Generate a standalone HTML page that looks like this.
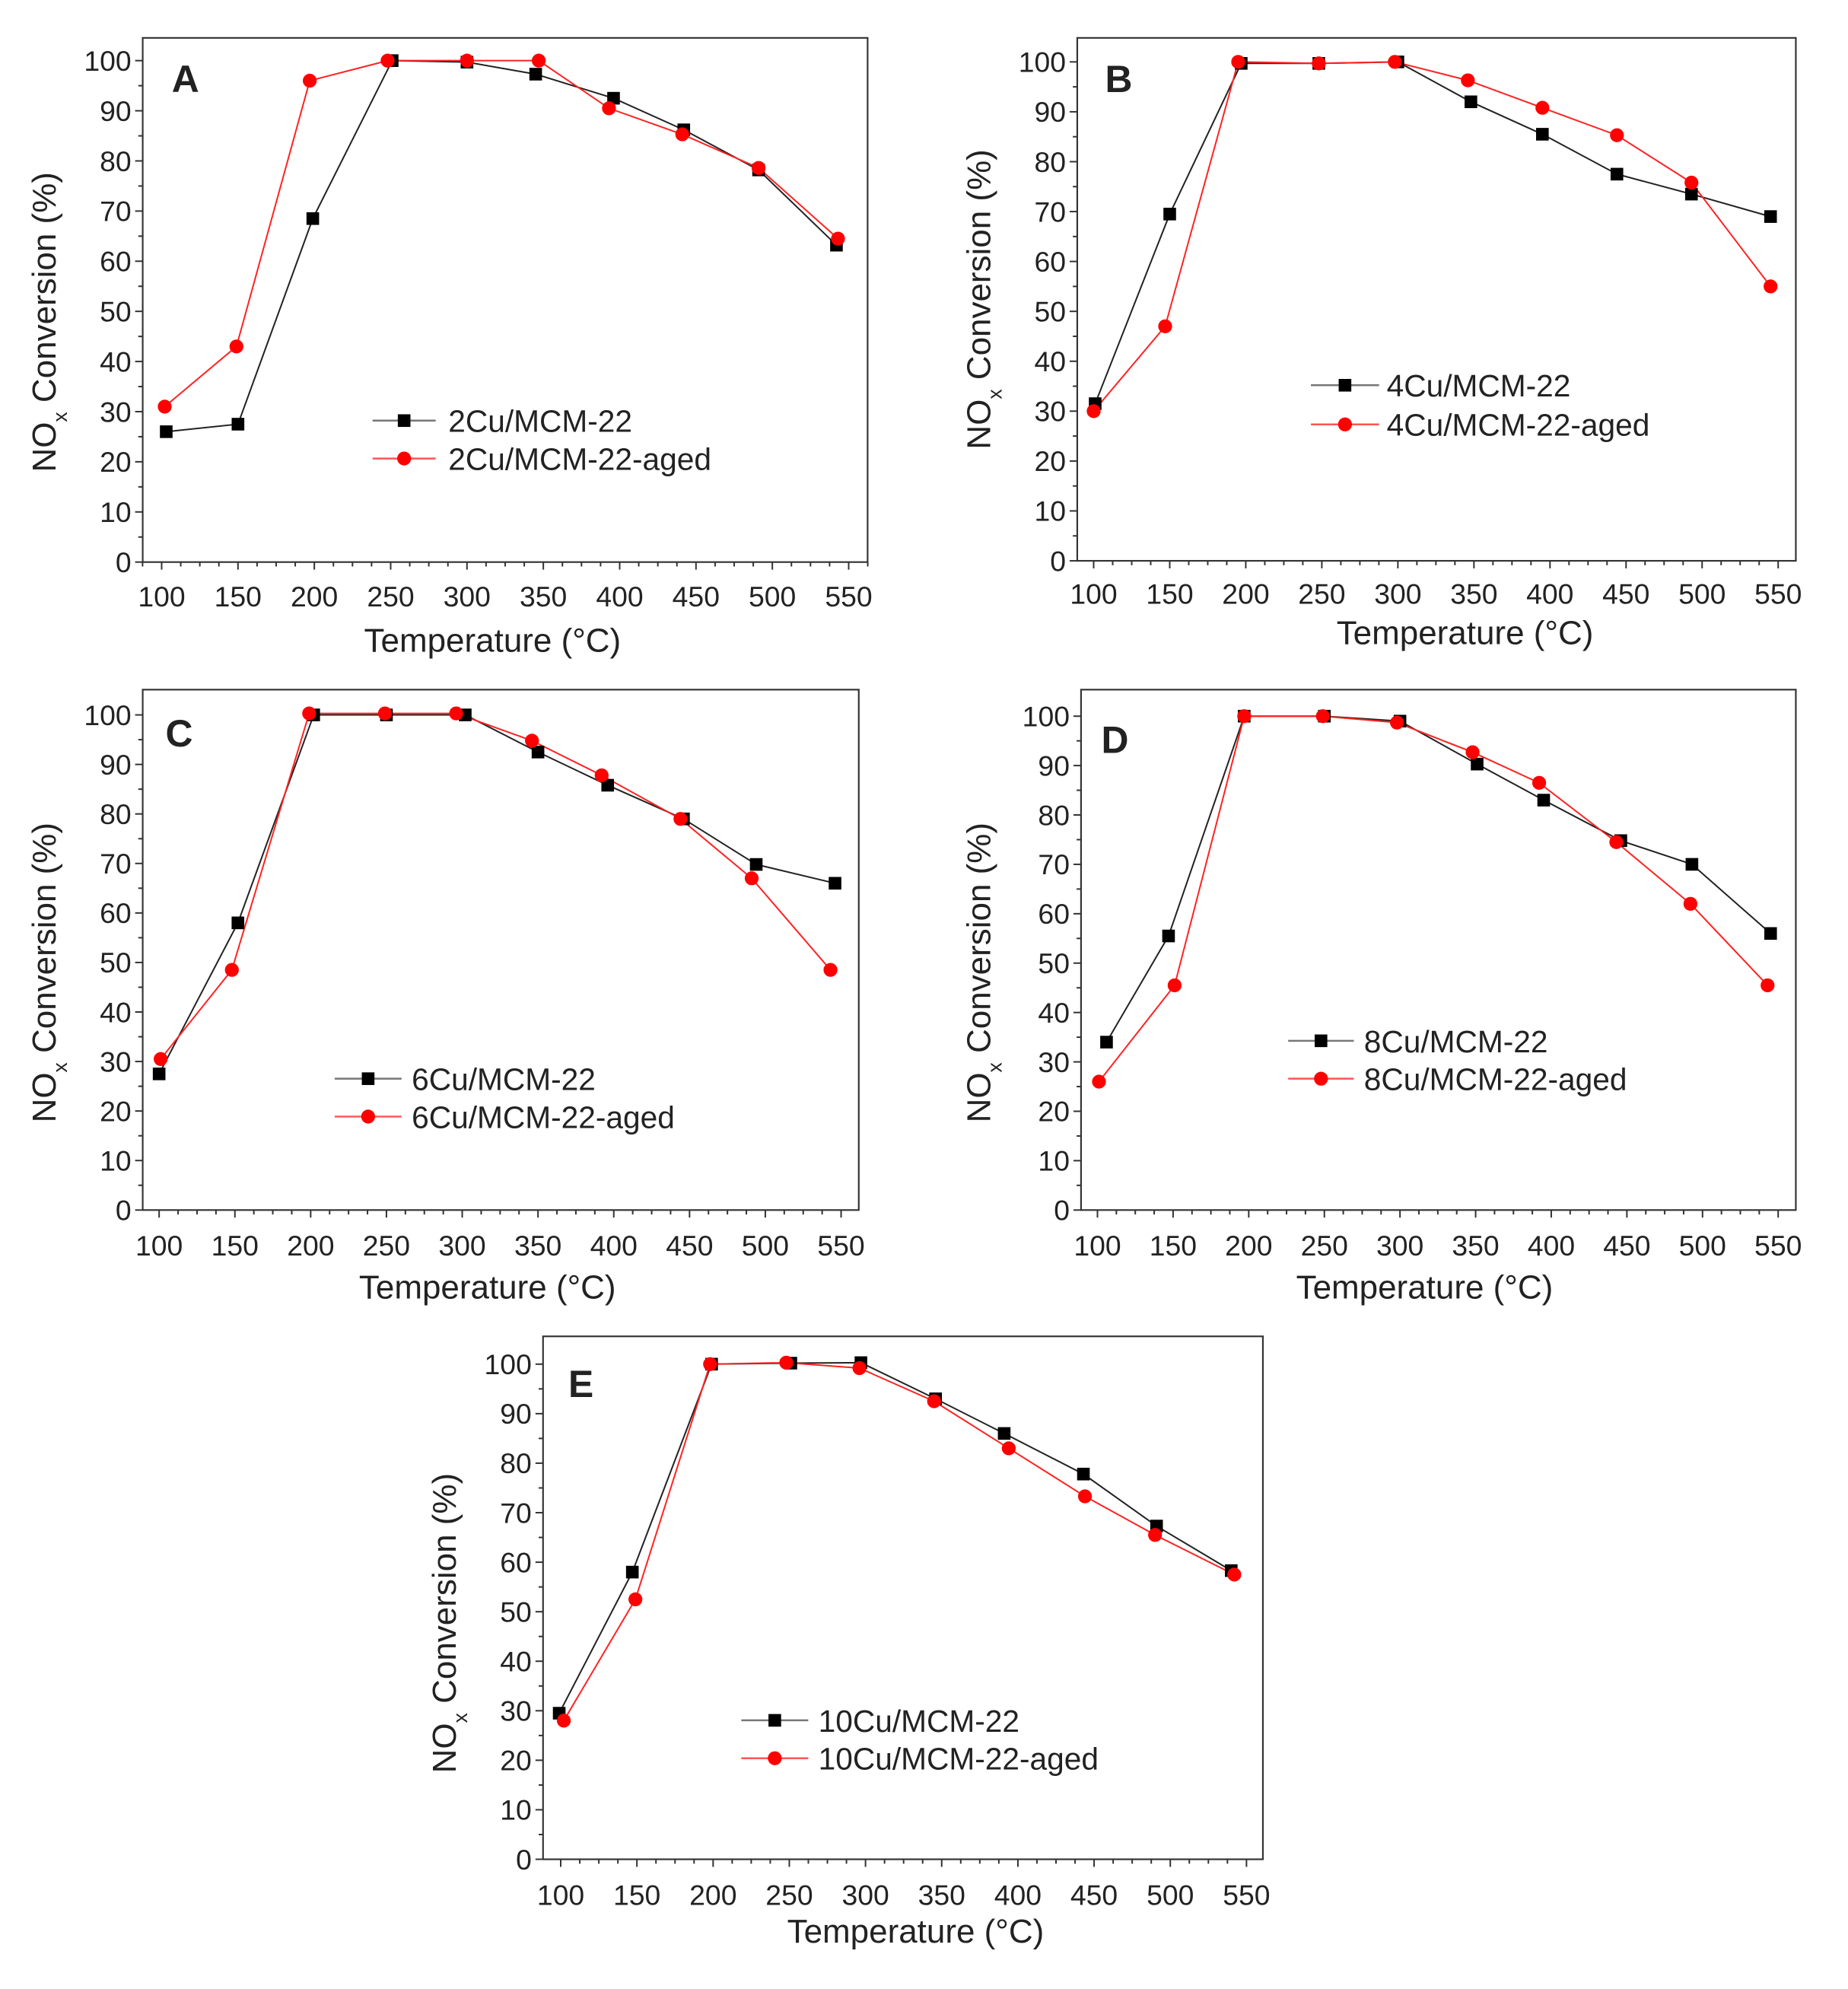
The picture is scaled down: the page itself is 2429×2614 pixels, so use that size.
<!DOCTYPE html>
<html><head><meta charset="utf-8"><style>
html,body{margin:0;padding:0;background:#fff}
svg{display:block}
text{font-family:"Liberation Sans",Arial,sans-serif;fill:#222}
</style></head><body>
<svg id="s" width="2429" height="2614" viewBox="0 0 1463.3 1574.7" preserveAspectRatio="none" xmlns="http://www.w3.org/2000/svg"></svg>
<script>
const S=document.getElementById('s');let h='';
const YL=["0","10","20","30","40","50","60","70","80","90","100"];
const XL=["100","150","200","250","300","350","400","450","500","550"];
const P=[
{L:'A',f:[113,30,687,445],x1:128,x2:672,y100:48,y0:445,let:[136,73],leg:[295,345,333,363,355],
 n:['2Cu/MCM-22','2Cu/MCM-22-aged'],yt:[35,255],xt:[390,516],tl:472,
 b:[[103,26],[150,27.5],[199,68.5],[251,100],[300,99.7],[345,97.3],[396,92.5],[442,86.2],[491,78.2],[542,63.2]],
 r:[[102,31],[149,43],[197,96],[248,100],[300,100],[347,100],[393,90.5],[441,85.3],[491,78.6],[543,64.5]]},
{L:'B',f:[853,30,1422,444],x1:866,x2:1408,y100:49,y0:444,let:[875,73],leg:[1038,1092,305,336,1098],
 n:['4Cu/MCM-22','4Cu/MCM-22-aged'],yt:[775,237],xt:[1160,510],tl:470,
 b:[[101,31.5],[150,69.5],[197,99.7],[248,99.7],[300,100],[348,92],[395,85.5],[444,77.5],[493,73.5],[545,69]],
 r:[[100,30],[147,47],[195,100],[248,99.7],[298,100],[346,96.3],[395,90.8],[444,85.3],[493,75.8],[545,55]]},
{L:'C',f:[113,546,680,958],x1:126,x2:666,y100:566,y0:958,let:[131,591],leg:[265,318,854,884,326],
 n:['6Cu/MCM-22','6Cu/MCM-22-aged'],yt:[35,770],xt:[386,1028],tl:986,
 b:[[100,27.5],[152,58],[202,100],[250,100],[302,100],[350,92.5],[396,85.8],[446,79],[494,69.8],[546,66]],
 r:[[101,30.5],[148,48.5],[199,100.3],[249,100.3],[296,100.3],[346,94.8],[392,87.8],[444,79],[491,67],[543,48.5]]},
{L:'D',f:[856,546,1422,958],x1:869,x2:1408,y100:567,y0:958,let:[872,596],leg:[1020,1072,824,854,1080],
 n:['8Cu/MCM-22','8Cu/MCM-22-aged'],yt:[775,770],xt:[1128,1028],tl:986,
 b:[[106,34],[147,55.5],[197,100],[250,100],[300,99],[351,90.3],[395,83],[446,74.8],[493,70],[545,56]],
 r:[[101,26],[151,45.5],[197,100],[249,100],[298,98.7],[348,92.7],[392,86.5],[443,74.5],[492,62],[543,45.5]]},
{L:'E',f:[430,1058,1000,1472],x1:444,x2:987,y100:1080,y0:1472,let:[450,1106],leg:[587,640,1362,1392,648],
 n:['10Cu/MCM-22','10Cu/MCM-22-aged'],yt:[352,1285],xt:[725,1538],tl:1500,
 b:[[99,29.5],[147,58],[199,100],[251,100.2],[297,100.3],[346,93],[391,86],[443,77.8],[491,67.3],[540,58.3]],
 r:[[102,28],[149,52.5],[198,100],[248,100.3],[296,99.2],[345,92.5],[394,83],[444,73.3],[490,65.5],[542,57.5]]}
];
function sq(x,y){return `<rect x="${x-5}" y="${y-5}" width="10" height="10" fill="#000"/>`}
function ci(x,y){return `<circle cx="${x}" cy="${y}" r="5.5" fill="#f00"/>`}
for(const p of P){
 const [l,t,r,b]=p.f;
 const X=v=>p.x1+(v-100)*(p.x2-p.x1)/450, Y=v=>p.y0-v*(p.y0-p.y100)/100;
 h+=`<rect x="${l}" y="${t}" width="${r-l}" height="${b-t}" fill="none" stroke="#333" stroke-width="1.3"/>`;
 for(let i=0;i<=20;i++){const y=Y(i*5);h+=`<line x1="${l}" x2="${l-(i%2?3.5:6)}" y1="${y}" y2="${y}" stroke="#333" stroke-width="1.2"/>`;}
 YL.forEach((s,i)=>{h+=`<text x="${l-9}" y="${Y(i*10)+8}" font-size="22.5" text-anchor="end">${s}</text>`});
 for(let i=-1;i<=37;i++){const v=100+i*12.5;const x=X(v);if(x<l-0.5||x>r+0.5)continue;h+=`<line x1="${x}" x2="${x}" y1="${b}" y2="${b+(i%4?3.5:6)}" stroke="#333" stroke-width="1.2"/>`;}
 XL.forEach((s,i)=>{h+=`<text x="${X(100+i*50)}" y="${p.tl+8}" font-size="22.5" text-anchor="middle">${s}</text>`});
 h+=`<text x="${p.xt[0]}" y="${p.xt[1]}" font-size="26.5" text-anchor="middle">Temperature (°C)</text>`;
 h+=`<text transform="translate(${p.yt[0]+9},${p.yt[1]}) rotate(-90)" font-size="26.5" text-anchor="middle">NO<tspan font-size="16" dy="9">x</tspan><tspan dy="-9"> Conversion (%)</tspan></text>`;
 h+=`<text x="${p.let[0]}" y="${p.let[1]}" font-size="30" font-weight="bold" fill="#000">${p.L}</text>`;
 const pb=p.b.map(q=>X(q[0])+','+Y(q[1])).join(' '), pr=p.r.map(q=>X(q[0])+','+Y(q[1])).join(' ');
 h+=`<polyline points="${pb}" fill="none" stroke="#222" stroke-width="1.2"/>`;
 h+=`<polyline points="${pr}" fill="none" stroke="#f22" stroke-width="1.2"/>`;
 p.b.forEach(q=>h+=sq(X(q[0]),Y(q[1])));
 p.r.forEach(q=>h+=ci(X(q[0]),Y(q[1])));
 const [a1,a2,ly1,ly2,tx]=p.leg,m=(a1+a2)/2;
 h+=`<line x1="${a1}" x2="${a2}" y1="${ly1}" y2="${ly1}" stroke="#777" stroke-width="1.5"/>`+sq(m,ly1);
 h+=`<line x1="${a1}" x2="${a2}" y1="${ly2}" y2="${ly2}" stroke="#f55" stroke-width="1.5"/>`+ci(m,ly2);
 h+=`<text x="${tx}" y="${ly1+9}" font-size="24.5">${p.n[0]}</text>`;
 h+=`<text x="${tx}" y="${ly2+9}" font-size="24.5">${p.n[1]}</text>`;
}
S.innerHTML=h;
</script>
</body></html>
